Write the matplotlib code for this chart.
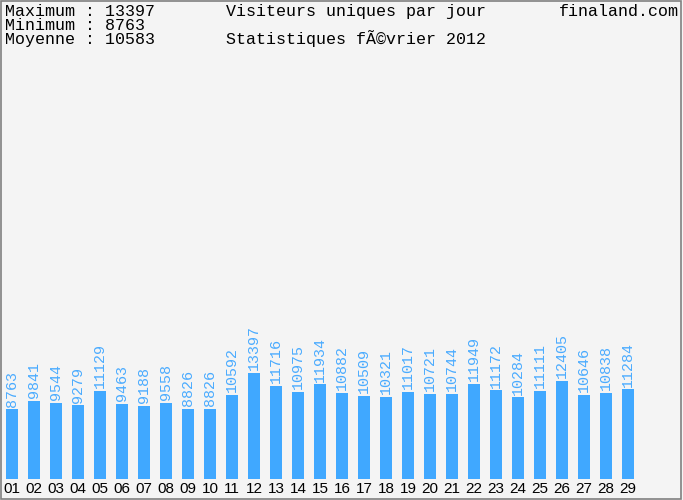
import matplotlib.pyplot as plt
from matplotlib.patches import Rectangle
from matplotlib import font_manager

#*******************************    Data    ***************************************
days = ["01", "02", "03", "04", "05", "06", "07", "08", "09", "10",
        "11", "12", "13", "14", "15", "16", "17", "18", "19", "20",
        "21", "22", "23", "24", "25", "26", "27", "28", "29"]
visits = [8763, 9841, 9544, 9279, 11129, 9463, 9188, 9558, 8826, 8826,
          10592, 13397, 11716, 10975, 11934, 10882, 10509, 10321, 11017, 10721,
          10744, 11949, 11172, 10284, 11111, 12405, 10646, 10838, 11284]
header_left = ["Maximum : 13397", "Minimum : 8763", "Moyenne : 10583"]
title = "Visiteurs uniques par jour"
subtitle = "Statistiques fÃ©vrier 2012"
site = "finaland.com"

W, H = 683, 500
bar_col = "#40a8ff"
bg = "#f4f4f4"

# narrow font for the day numbers if it is there
names = set(f.name for f in font_manager.fontManager.ttflist)
tick_font = "Liberation Sans Narrow" if "Liberation Sans Narrow" in names else "Liberation Sans"

#*******************************    Figure    ***************************************
fig = plt.figure(figsize=(W / 100, H / 100), dpi=100)
fig.patch.set_facecolor(bg)

# axes: bottom of bars at y=479px, one bar every 22px, first centre at 12px
ax = fig.add_axes([0, (H - 479) / H, 1, 479 / H])
ax.set_facecolor("none")
x = list(range(1, len(days) + 1))
ax.bar(x, visits, width=12 / 22, color=bar_col, zorder=2)
ax.set_xlim(1 - 12 / 22, 1 + (W - 12) / 22)
ax.set_ylim(0, 479 * 126)
for s in ax.spines.values():
    s.set_visible(False)
ax.set_yticks([])
ax.set_xticks(x)
ax.set_xticklabels(days, fontfamily=tick_font, fontsize=11, color="black")
ax.tick_params(axis="x", length=0, pad=2.5)

# values above bars
for xi, v in zip(x, visits):
    ax.annotate(str(v), (xi, v), xytext=(0, 2), textcoords="offset points",
                rotation=90, ha="center", va="bottom", fontsize=10.8,
                fontfamily="Liberation Mono", color="#4aabff")

#*******************************    Header texts    ***************************************
def put(px, py, s):
    fig.text(px / W, 1 - py / H, s, ha="left", va="baseline",
             fontsize=12, fontfamily="Liberation Mono", color="black")

for i, s in enumerate(header_left):
    put(5, 16 + 14 * i, s)
put(226, 16, title)
put(226, 44, subtitle)
put(559, 16, site)

# frame
fig.patches.append(Rectangle((0.5 / W, 1.5 / H), 680 / W, 497.5 / H,
                             transform=fig.transFigure, fill=False,
                             edgecolor="#808080", linewidth=1.2))

fig.savefig("out.png", dpi=100, facecolor=bg)
